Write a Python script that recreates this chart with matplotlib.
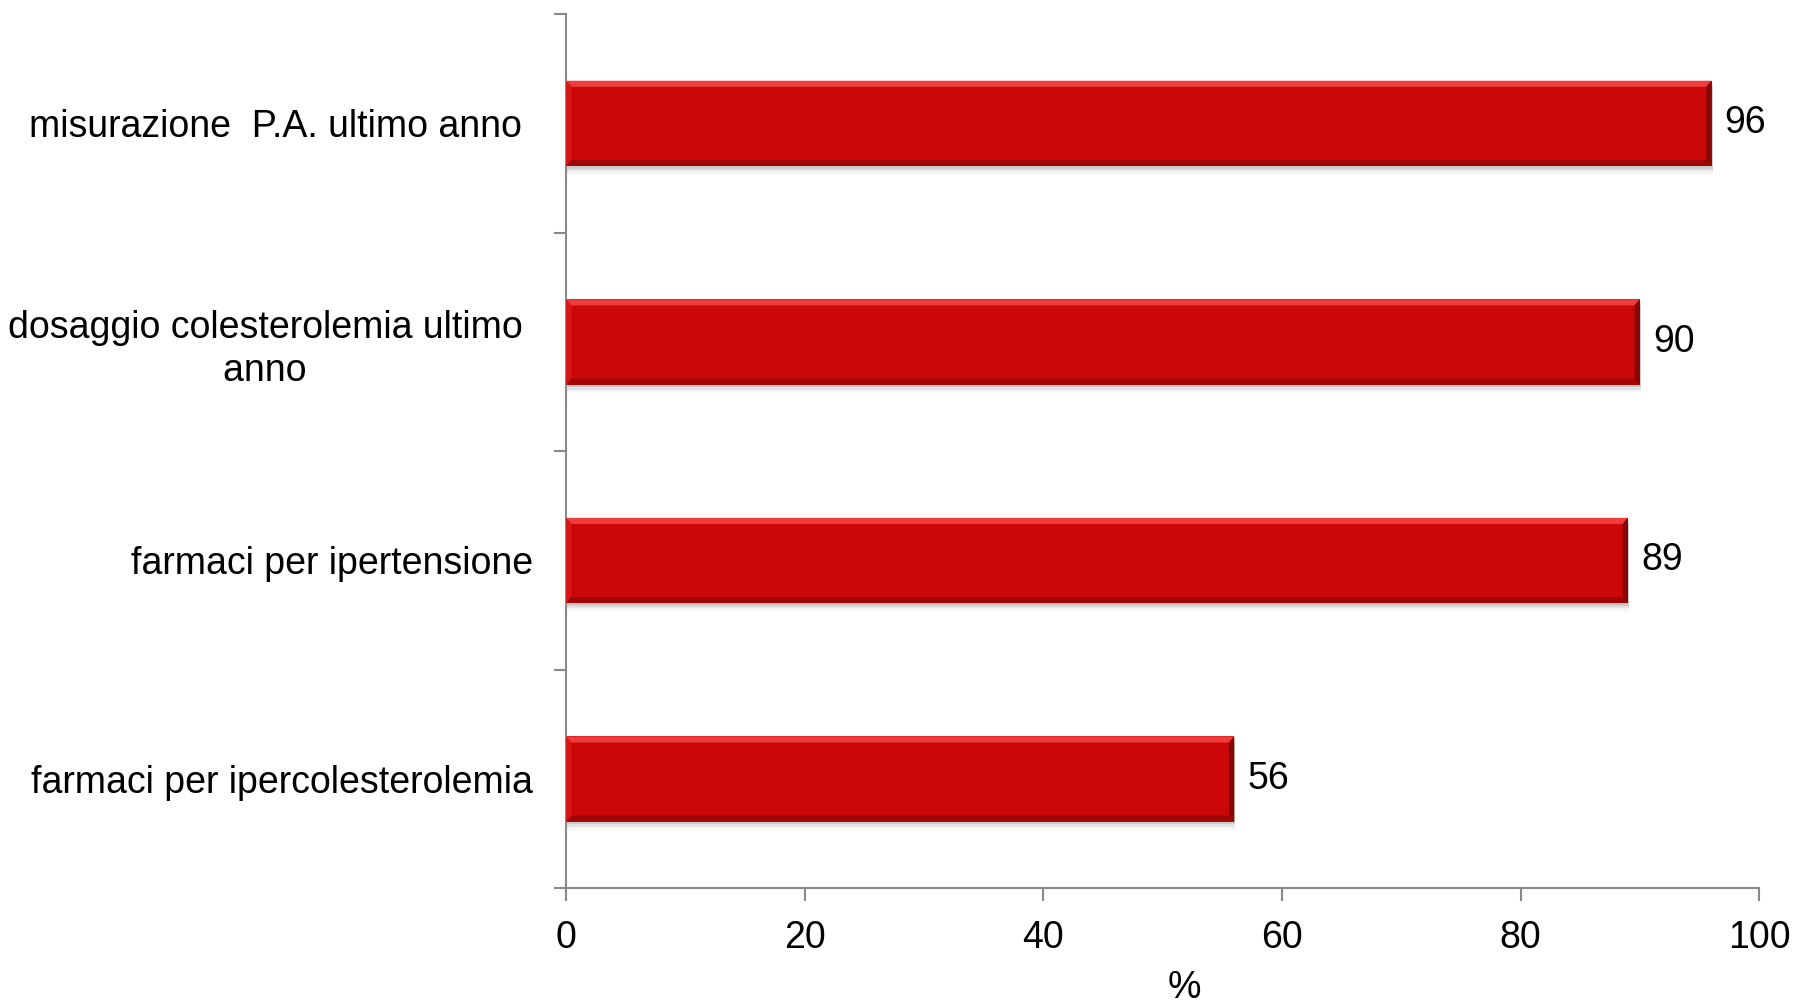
import numpy as np
import matplotlib.pyplot as plt
from matplotlib.patches import Polygon, Rectangle

plt.rcParams['font.family'] = ['Liberation Sans', 'DejaVu Sans']

labels = ['misurazione  P.A. ultimo anno ',
          'dosaggio colesterolemia ultimo \nanno ',
          'farmaci per ipertensione',
          'farmaci per ipercolesterolemia']
valori = [96, 90, 89, 56]

fig = plt.figure(figsize=(17.97, 10.06), dpi=100)
ax = fig.add_axes([0.315, 0.117, 0.664, 0.869])

y = np.arange(len(valori))[::-1]
h = 0.39
bars = ax.barh(y, valori, height=h, color='#cc0707', edgecolor='none', zorder=2)

# bevel + shadow for each bar
bx = 0.45   # bevel in x data units
by = 0.028  # bevel in y data units
for b in bars:
    x0, y0 = b.get_x(), b.get_y()
    w, hh = b.get_width(), b.get_height()
    x1, y1 = x0 + w, y0 + hh
    # soft shadow underneath
    for k, a in enumerate([0.10, 0.07, 0.04]):
        ax.add_patch(Rectangle((x0 + 0.1, y0 - 0.012 * (k + 1)), w, hh,
                               color='black', alpha=a, lw=0, zorder=1))
    # top (light)
    ax.add_patch(Polygon([(x0, y1), (x1, y1), (x1 - bx, y1 - by), (x0 + bx, y1 - by)],
                         color='#f03c3c', lw=0, zorder=3))
    # left
    ax.add_patch(Polygon([(x0, y0), (x0, y1), (x0 + bx, y1 - by), (x0 + bx, y0 + by)],
                         color='#d81616', lw=0, zorder=3))
    # bottom (dark)
    ax.add_patch(Polygon([(x0, y0), (x1, y0), (x1 - bx, y0 + by), (x0 + bx, y0 + by)],
                         color='#a00606', lw=0, zorder=3))
    # right (darkest)
    ax.add_patch(Polygon([(x1, y0), (x1, y1), (x1 - bx, y1 - by), (x1 - bx, y0 + by)],
                         color='#880505', lw=0, zorder=3))
    ax.text(x1 + 1.1, y0 + hh / 2, str(int(w)), va='center', ha='left', fontsize=27)

ax.set_xlim(0, 100)
ax.set_ylim(-0.5, len(valori) - 0.5)
ax.set_xticks([0, 20, 40, 60, 80, 100])
ax.set_yticks(np.arange(-0.5, len(valori), 1.0))
ax.set_yticklabels([])
ax.set_yticks(y, labels, minor=True)
ax.tick_params(axis='y', which='minor', length=0, pad=24, labelsize=27)
ax.tick_params(axis='y', which='major', length=9, width=1.5, color='#898989')
ax.tick_params(axis='x', length=9, width=1.5, color='#898989', labelsize=27, pad=14)
for t in ax.get_yticklabels(minor=True):
    t.set_multialignment('center')
    t.set_linespacing(1.25)

for s in ['top', 'right']:
    ax.spines[s].set_visible(False)
for s in ['left', 'bottom']:
    ax.spines[s].set_color('#898989')
    ax.spines[s].set_linewidth(1.5)

ax.set_xlabel('%', fontsize=27)
ax.xaxis.set_label_coords(0.518, -0.094)

plt.savefig('out.png', dpi=100)
